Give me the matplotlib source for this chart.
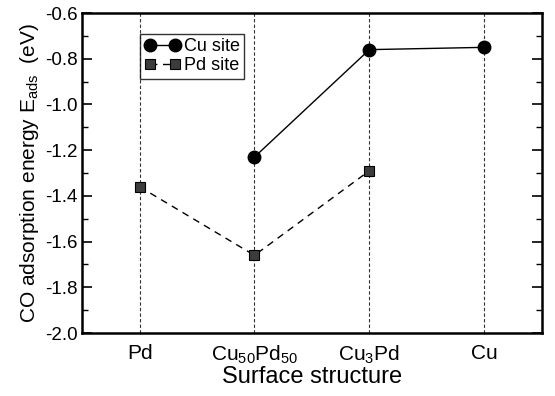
import numpy as np
import matplotlib
matplotlib.use('Agg')
import matplotlib.pyplot as plt
from matplotlib.ticker import MultipleLocator

plt.rcParams['font.family'] = ['Liberation Sans', 'DejaVu Sans']
plt.rcParams['mathtext.default'] = 'regular'

# data
structures = ['Pd', 'Cu$_{50}$Pd$_{50}$', 'Cu$_3$Pd', 'Cu']
cu_idx = [1, 2, 3]
cu_site = [-1.23, -0.76, -0.75]
pd_idx = [0, 1, 2]
pd_site = [-1.36, -1.66, -1.29]
yticks = np.arange(-2.0, -0.59, 0.2)

fig = plt.figure(figsize=(5.55, 3.96), dpi=100)
ax = fig.add_axes([0.148, 0.159, 0.828, 0.808])

# vertical dotted guide lines at each structure
for i in range(len(structures)):
    ax.axvline(i, color='#333333', lw=0.8, ls=(0, (3, 2)), zorder=1)

ax.plot(cu_idx, cu_site, color='black', lw=1.0, marker='o', ms=9,
        mfc='black', mec='black', label='Cu site', zorder=3)
ax.plot(pd_idx, pd_site, color='black', lw=1.0, ls=(0, (5, 4)), marker='s', ms=7,
        mfc='#3c3c3c', mec='black', mew=0.8, label='Pd site', zorder=3)

ax.set_xlim(-0.5, 3.5)
ax.set_ylim(-2.0, -0.6)
ax.set_xticks(range(len(structures)))
ax.set_xticklabels(structures, fontsize=15)
ax.set_yticks(yticks)
ax.set_yticklabels([f'{v:.1f}' for v in yticks], fontsize=13.5)
ax.yaxis.set_minor_locator(MultipleLocator(0.1))

ax.tick_params(axis='y', which='major', direction='in', length=7, width=1.2,
               left=True, right=True, pad=3)
ax.tick_params(axis='y', which='minor', direction='in', length=4, width=1.0,
               left=True, right=True)
ax.tick_params(axis='x', which='major', length=0, pad=8)

for s in ax.spines.values():
    s.set_linewidth(1.8)

ax.set_xlabel('Surface structure', fontsize=17, labelpad=0)
ax.set_ylabel('CO adsorption energy E$_{ads}$  (eV)', fontsize=15, labelpad=3)

leg = ax.legend(loc='upper left', bbox_to_anchor=(0.125, 0.935), fontsize=13,
                numpoints=2, frameon=True, fancybox=False, handlelength=2.0,
                handletextpad=0.2, borderpad=0.25, labelspacing=0.1,
                borderaxespad=0.0)
leg.get_frame().set_edgecolor('black')
leg.get_frame().set_linewidth(1.0)

fig.savefig('out.png', dpi=100)
